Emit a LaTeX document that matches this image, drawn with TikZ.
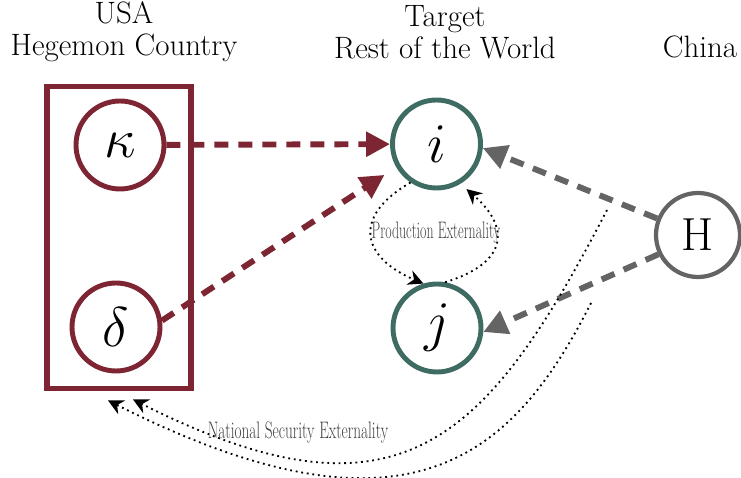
\documentclass[tikz,border=0pt]{standalone}
\usepackage{graphicx}
\usepackage{xcolor}
\usepackage{tikz}
\usetikzlibrary{arrows.meta,positioning,calc}
\definecolor{hegemon}{HTML}{7D2532}
\definecolor{target}{HTML}{3E6B62}
\definecolor{rival}{HTML}{646464}
\newcommand{\squeeze}[2]{\scalebox{#1}[1]{#2}}
\newcommand{\bigsym}[1]{\scalebox{1.6}{$#1$}}

\begin{document}
\begin{tikzpicture}[
  ctry/.style ={circle, line width=3.5pt, minimum size=2.2cm, inner sep=0pt,
                font=\Huge},
  heg/.style  ={ctry, draw=hegemon},
  tgt/.style  ={ctry, draw=target},
  rvl/.style  ={circle, draw=rival, line width=3pt, minimum size=2.1cm, inner sep=0pt,
                font=\fontsize{33}{33}\selectfont},
  ttl/.style  ={align=center, font=\fontsize{22}{22.5}\selectfont},
  lbl/.style  ={black!75, font=\fontsize{17}{17}\selectfont},
  push/.style ={line width=4.2pt, dash pattern=on 0.35cm off 0.25cm,
                -{Triangle[length=0.6cm,width=0.6cm]}},
  ext/.style  ={black, line width=1.3pt, dash pattern=on 1.3pt off 2.7pt,
                -{Stealth[length=3.8mm,width=3.8mm]}}
]
\useasboundingbox (0,0) rectangle (18.525,11.95);

% ---------- column heads ----------
\node[ttl] (tusa) at (3.1,11.15)   {USA\\Hegemon Country};
\node[ttl] (trow) at (11.125,11.15){Target\\Rest of the World};
\node[ttl] (tchn) at (17.5,10.775) {China};

% ---------- hegemon ----------
\node[draw=hegemon, line width=4.2pt, minimum width=3.6cm, minimum height=7.55cm]
  (usa) at (2.975,6.0125) {};
\node[heg] (kappa) at (3.0,8.325) {\bigsym{\kappa}};
\node[heg] (delta) at (2.9,3.775) {\bigsym{\delta}};

% ---------- target and rival ----------
\node[tgt] (i) at (10.9125,8.35) {\bigsym{i}};
\node[tgt] (j) at (10.925,3.75)  {\bigsym{j}};
\node[rvl] (H) at (17.45,6.075)  {H};

\draw[push, hegemon] (kappa) -- (i);
\draw[push, hegemon, shorten >=0.35cm] (delta.8) -- (i.210);
\draw[push, rival] (H.158) -- (i.-5);
\draw[push, rival] (H.206) -- (j.-5);

% ---------- externalities ----------
\draw[ext] (i.236) to[out=210, in=157, looseness=1.7] (j.107);
\draw[ext, shorten >=0.2cm] (j.80) to[out=17, in=-41, looseness=1.7] (i.-59);
\node[lbl] (prod) at (10.9,6.125) {\squeeze{0.58}{Production Externality}};

\coordinate (secA) at (15.175,6.7);
\coordinate (secB) at (14.775,4.375);
\coordinate (usaA) at ($(usa.south)+(0.35,-0.2)$);
\coordinate (usaB) at ($(usa.south)+(-0.275,-0.225)$);
\draw[ext] (secA) .. controls +(-2.99,-5.77) and +(6.675,-3.375) .. (usaA);
\draw[ext] (secB) .. controls +(-1.91,-3.78) and +(7.565,-3.825) .. (usaB);
\node[lbl] (nat) at (7.45,1.125) {\squeeze{0.64}{National Security Externality}};
\end{tikzpicture}
\end{document}
